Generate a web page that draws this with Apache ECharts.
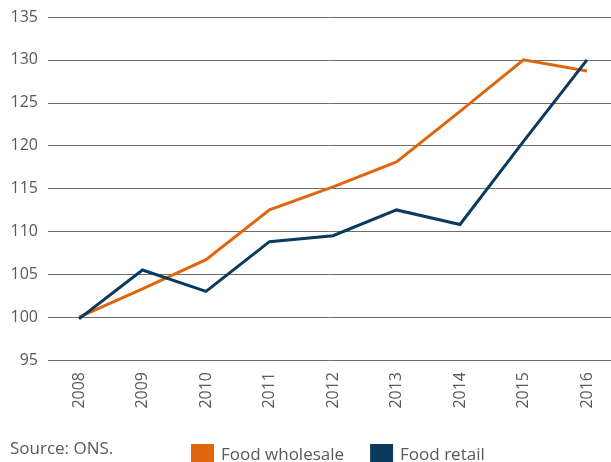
<!DOCTYPE html>
<html>
<head>
<meta charset="utf-8">
<script src="https://cdn.jsdelivr.net/npm/echarts@6/dist/echarts.min.js"></script>
<style>
  html, body { margin: 0; padding: 0; background: #fff; }
  #chart { width: 611px; height: 462px; }
</style>
</head>
<body>
<div id="chart"></div>
<script>
// data
const years = ['2008', '2009', '2010', '2011', '2012', '2013', '2014', '2015', '2016'];
const foodWholesale = [100, 103.3, 106.7, 112.5, 115.2, 118.1, 124, 130, 128.7];
const foodRetail = [99.8, 105.5, 103, 108.8, 109.5, 112.5, 110.8, 120.5, 130];
const yMin = 95, yMax = 135, yStep = 5;

const myChart = echarts.init(document.getElementById('chart'));
const font = '"Open Sans", "Noto Sans", sans-serif';
const textColor = '#58595b';

const option = {
    animation: false,
    textStyle: {fontFamily: font},
    grid: [
        // lines + year labels
        {left: 79, right: 24, top: 17, height: 343},
        // background grid: gridlines run the full width
        {left: 48, right: 0, top: 17, height: 343},
    ],
    legend: {
        left: 186, top: 439,
        icon: 'rect', itemWidth: 23, itemHeight: 22, itemGap: 26,
        textStyle: {fontFamily: font, fontSize: 17, color: textColor, padding: [0, 0, 0, 2]},
        data: ['Food wholesale', 'Food retail'],
    },
    graphic: [{
        type: 'text', left: 10, top: 441,
        style: {text: 'Source: ONS.', font: '17px ' + font, fill: textColor},
    }],
    xAxis: [
        {
            type: 'category', gridIndex: 0,
            data: years,
            boundaryGap: false,
            axisLine: {show: false},
            axisTick: {show: false},
            splitLine: {show: false},
            axisLabel: {rotate: 90, margin: 12, fontSize: 16, color: textColor, fontFamily: font},
        },
        {
            type: 'value', gridIndex: 1, show: false,
        },
    ],
    yAxis: [
        {
            type: 'value', gridIndex: 0,
            min: yMin, max: yMax, interval: yStep,
            show: false,
        },
        {
            type: 'value', gridIndex: 1,
            min: yMin, max: yMax, interval: yStep,
            axisLine: {show: false},
            axisTick: {show: false},
            axisLabel: {margin: 10, fontSize: 16, color: textColor, fontFamily: font},
            splitLine: {lineStyle: {color: '#6d6e70', width: 1}},
        },
    ],
    series: [
        {
            name: 'Food wholesale', type: 'line', data: foodWholesale,
            xAxisIndex: 0, yAxisIndex: 0,
            symbol: 'none', color: '#e0650f', z: 3,
            lineStyle: {width: 3, color: '#e0650f', cap: 'butt', join: 'miter'},
        },
        {
            name: 'Food retail', type: 'line', data: foodRetail,
            xAxisIndex: 0, yAxisIndex: 0,
            symbol: 'none', color: '#0b3a5c', z: 3,
            lineStyle: {width: 3, color: '#0b3a5c', cap: 'butt', join: 'miter'},
        },
    ],
};
myChart.setOption(option);
</script>
</body>
</html>
